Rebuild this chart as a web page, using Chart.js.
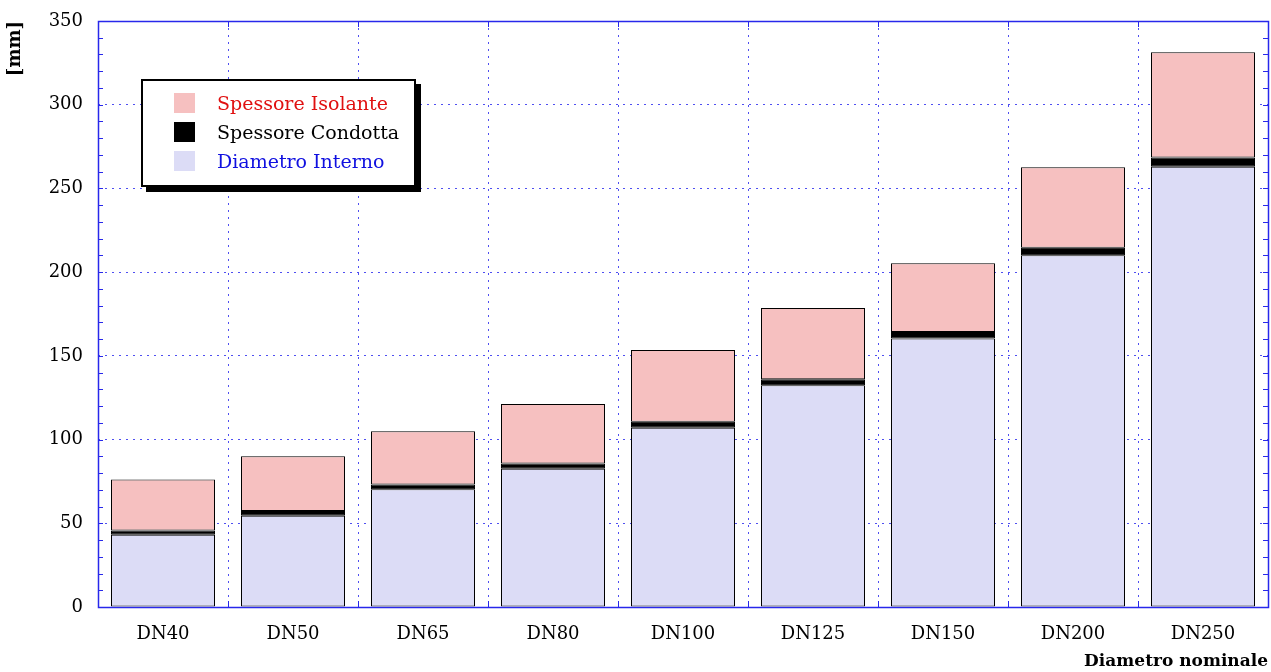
<!DOCTYPE html>
<html>
<head>
<meta charset="utf-8">
<script src="https://cdn.jsdelivr.net/npm/chart.js@4"></script>
<style>
  html, body { margin: 0; padding: 0; background: #fff; }
  #wrap { position: relative; width: 1271px; height: 672px; }
  #legend {
    position: absolute; left: 141px; top: 79px; width: 271px; height: 104px;
    background: #fff; border: 2px solid #000; box-shadow: 5px 5px 0 #000;
    font-family: "DejaVu Serif", serif; font-size: 19px;
  }
  #legend .row { position: absolute; left: 31px; height: 22px; line-height: 22px; white-space: nowrap; }
  #legend .sw { position: absolute; left: 0; top: 1px; width: 21px; height: 20px; }
  #legend .tx { position: absolute; left: 43px; top: 0; }
</style>
</head>
<body>
<div id="wrap">
  <canvas id="myChart" width="1271" height="672"></canvas>
  <div id="legend"></div>
</div>
<script>
const categories = ["DN40", "DN50", "DN65", "DN80", "DN100", "DN125", "DN150", "DN200", "DN250"];
const diametroInterno = [43.1, 54.5, 70.3, 82.5, 107.1, 132.5, 160.3, 210.1, 263.0];
const spessoreCondotta = [2.6, 2.9, 2.9, 3.2, 3.6, 3.6, 4.0, 4.5, 5.4];
const spessoreIsolante = [30.4, 32.6, 31.8, 35.6, 42.8, 42.5, 41.0, 48.1, 63.0];

const blue = "rgb(40,40,235)";
const gridBlue = "rgba(60,60,240,0.9)";

// frame and inward tick marks, gnuplot style
const framePlugin = {
  id: "frame",
  afterDatasetsDraw(chart) {
    const { ctx, chartArea: a, scales } = chart;
    ctx.save();
    ctx.strokeStyle = blue;
    ctx.lineWidth = 1;
    ctx.beginPath();
    for (let v = 0; v <= 350; v += 10) {
      const y = Math.round(scales.y.getPixelForValue(v)) + 0.5;
      ctx.moveTo(a.left, y); ctx.lineTo(a.left + 5, y);
      ctx.moveTo(a.right, y); ctx.lineTo(a.right - 5, y);
    }
    const step = (a.right - a.left) / categories.length;
    for (let i = 1; i < categories.length; i++) {
      const x = Math.round(a.left + step * i) + 0.5;
      ctx.moveTo(x, a.bottom); ctx.lineTo(x, a.bottom - 6);
      ctx.moveTo(x, a.top); ctx.lineTo(x, a.top + 6);
    }
    ctx.stroke();
    ctx.lineWidth = 1.5;
    ctx.strokeRect(Math.round(a.left) + 0.5, Math.round(a.top) + 0.5,
      Math.round(a.right - a.left), Math.round(a.bottom - a.top));
    ctx.restore();
  }
};

const ctx = document.getElementById("myChart");
const myChart = new Chart(ctx, {
  type: "bar",
  data: {
    labels: categories,
    datasets: [
      {
        label: "Diametro Interno",
        data: diametroInterno,
        backgroundColor: "#dcdcf6",
        textColor: "#1010e0",
      },
      {
        label: "Spessore Condotta",
        data: spessoreCondotta,
        backgroundColor: "#000000",
        textColor: "#000000",
      },
      {
        label: "Spessore Isolante",
        data: spessoreIsolante,
        backgroundColor: "#f6c0c0",
        textColor: "#e01010",
      },
    ],
  },
  options: {
    responsive: false,
    animation: false,
    datasets: {
      bar: {
        borderColor: "#000",
        borderWidth: 1,
        borderSkipped: false,
        barPercentage: 0.8,
        categoryPercentage: 1.0,
      },
    },
    layout: {
      padding: { top: 21, right: 3, left: 0, bottom: 0 },
    },
    plugins: {
      legend: { display: false },
      tooltip: { enabled: false },
    },
    scales: {
      x: {
        stacked: true,
        afterFit: (s) => { s.height = 65; s.paddingLeft = 0; s.paddingRight = 0; },
        grid: { color: gridBlue, drawTicks: false, offset: true },
        border: { display: false, dash: [2, 5] },
        ticks: {
          color: "#000",
          padding: 17,
          font: { family: "'DejaVu Serif', serif", size: 18 },
        },
        title: {
          display: true,
          text: "Diametro nominale",
          align: "end",
          color: "#000",
          font: { family: "'DejaVu Serif', serif", size: 17, weight: "bold" },
          padding: { top: 0, bottom: 0 },
        },
      },
      y: {
        stacked: true,
        min: 0,
        max: 350,
        afterFit: (s) => { s.width = 98; s.paddingTop = 0; s.paddingBottom = 0; },
        grid: { color: gridBlue, drawTicks: false },
        border: { display: false, dash: [2, 5] },
        ticks: {
          stepSize: 50,
          color: "#000",
          padding: 15,
          font: { family: "'DejaVu Serif', serif", size: 18 },
        },
        title: {
          display: true,
          text: "[mm]",
          align: "end",
          color: "#000",
          font: { family: "'DejaVu Serif', serif", size: 18, weight: "bold" },
          padding: { top: 5, bottom: 0 },
        },
      },
    },
  },
  plugins: [framePlugin],
});

// legend built from the chart's datasets, top entry = top of the stack
const legendEl = document.getElementById("legend");
myChart.data.datasets.slice().reverse().forEach((ds, i) => {
  const row = document.createElement("div");
  row.className = "row";
  row.style.top = 11 + i * 29 + "px";
  const sw = document.createElement("span");
  sw.className = "sw";
  sw.style.background = ds.backgroundColor;
  const tx = document.createElement("span");
  tx.className = "tx";
  tx.style.color = ds.textColor;
  tx.textContent = ds.label;
  row.appendChild(sw);
  row.appendChild(tx);
  legendEl.appendChild(row);
});
</script>
</body>
</html>
